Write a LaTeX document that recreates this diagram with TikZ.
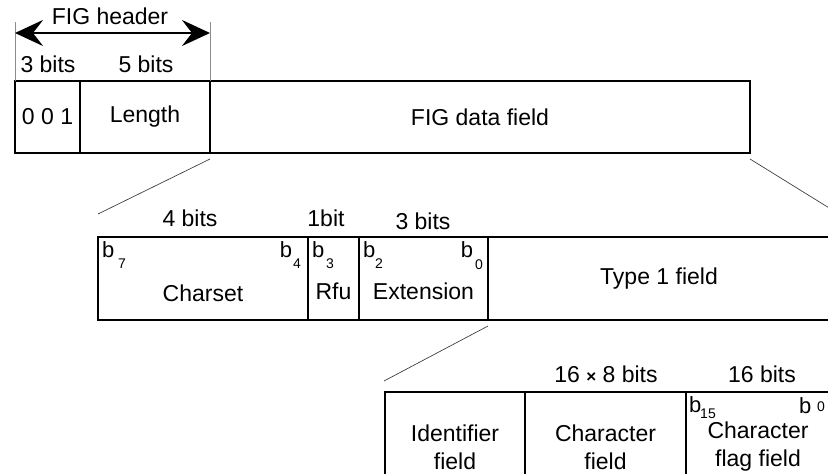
\documentclass[tikz,border=0pt]{standalone}
\usepackage{fontspec}
\setmainfont{Liberation Sans}
\usetikzlibrary{arrows.meta}
\usetikzlibrary{positioning}
\newcommand{\bitno}[3]{b\kern#1\raisebox{#2}{\fontsize{14}{14}\selectfont #3}}

\begin{document}
\begin{tikzpicture}[x=1pt,y=-1pt]
        \tikzset{every node/.style={font=\fontsize{23}{28}\selectfont, inner sep=0pt, outer sep=0pt},
                field/.style={draw=black, line width=1.7pt, align=center},
                bitlbl/.style={font=\fontsize{22}{24}\selectfont},
                guide/.style={draw=black!45, line width=0.6pt},
                zoomline/.style={draw=black!75, line width=0.7pt},
                >={Stealth[length=28pt,width=26pt,inset=10pt]}}

        \useasboundingbox (0,0) rectangle (828,474);
        \clip (0,0) rectangle (828,474);

        % FIG header and data field
        \node[field, minimum width=65pt, minimum height=72pt] (1) at (47.5,117) {0 0 1};
        \node[field, minimum width=130pt, minimum height=72pt] (2) at (145,117) {Length};
        \node[field, minimum width=540pt, minimum height=72pt] (3) at (480,117) {FIG data field};

        \coordinate (g1) at (15,22);
        \coordinate (g2) at (210,22);
        \draw[guide] (g1) -- (1.north west);
        \draw[guide] (g2) -- (2.north east);
        \draw[<->, line width=2.8pt] ([yshift=-11pt]g1) -- ([yshift=-11pt]g2);
        \node (hdr) at (110,16) {FIG header};
        \node at (48,64) {3 bits};
        \node at (146,64) {5 bits};

        % Type 1 extension
        \node[field, minimum width=210pt, minimum height=83pt] (4) at (203,278.5) {};
        \node[field, minimum width=51pt, minimum height=83pt] (5) at (333.5,278.5) {};
        \node[field, minimum width=129pt, minimum height=83pt] (6) at (423.5,278.5) {};
        \node[field, minimum width=342pt, minimum height=83pt] (7) at (659,278.5) {Type 1 field};

        \node at ([yshift=-15pt]4.center) {Charset};
        \node at ([yshift=-13pt]5.center) {Rfu};
        \node at ([yshift=-13pt]6.center) {Extension};
        \node at (190,218) {4 bits};
        \node at (326,218) {1bit};
        \node at (423,221) {3 bits};

        \node[bitlbl, anchor=base west] at (102,257) {\bitno{4pt}{-11pt}{7}};
        \node[bitlbl, anchor=base east] at (301,257) {\bitno{1pt}{-11pt}{4}};
        \node[bitlbl, anchor=base west] at (312,257) {\bitno{2pt}{-11pt}{3}};
        \node[bitlbl, anchor=base west] at (363,257) {\bitno{0pt}{-11pt}{2}};
        \node[bitlbl, anchor=base east] at (483,257) {\bitno{2pt}{-12pt}{0}};

        % Type 1 field
        \node[field, minimum width=140pt, minimum height=110pt] (8) at (455,447) {Identifier\\field};
        \node[field, minimum width=161pt, minimum height=110pt] (9) at (605.5,447) {Character\\field};
        \node[field, minimum width=144pt, minimum height=110pt] (10) at (758,447) {Character\\flag field};
        \node at (606,374) {16 {\fontsize{17}{17}\selectfont\textbf{×}} 8 bits};
        \node at (762,374) {16 bits};

        \node[bitlbl, anchor=base west] at (689,412) {\bitno{-1pt}{-6pt}{15}};
        \node[bitlbl, anchor=base west] at (799,413) {\bitno{6pt}{2pt}{0}};

        % zoom lines
        \coordinate (z1) at (98,214);
        \coordinate (z2) at (868,232);
        \coordinate (z3) at (384,381);
        \draw[zoomline] ([yshift=-6pt]2.south east) -- (z1);
        \draw[zoomline] ([yshift=-6pt]3.south east) -- (z2);
        \draw[zoomline] ([yshift=-6pt]6.south east) -- (z3);

    \end{tikzpicture}
\end{document}
